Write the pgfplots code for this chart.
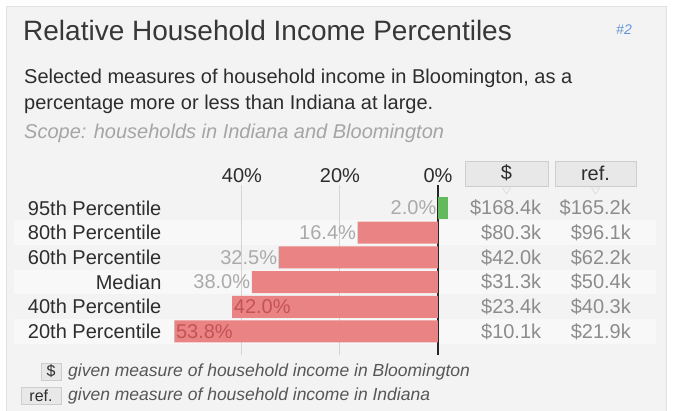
\documentclass[border=0pt]{standalone}
\usepackage{pgfplots}
\pgfplotsset{compat=1.18}
\usepackage{pgfplotstable}
\usepackage{fontspec}
\setmainfont{Liberation Sans}

\definecolor{panel}{RGB}{243,243,243}
\definecolor{panelline}{RGB}{225,225,225}
\definecolor{band}{RGB}{248,248,248}
\definecolor{titlec}{RGB}{55,55,55}
\definecolor{textc}{RGB}{45,45,45}
\definecolor{scopec}{RGB}{165,165,165}
\definecolor{lblgray}{RGB}{170,170,170}
\definecolor{valc}{RGB}{140,140,140}
\definecolor{barred}{RGB}{234,131,131}
\definecolor{bargreen}{RGB}{98,186,92}
\definecolor{inred}{RGB}{196,84,84}
\definecolor{gridc}{RGB}{212,212,212}
\definecolor{hdr}{RGB}{232,232,232}
\definecolor{hdrline}{RGB}{205,205,205}
\definecolor{numc}{RGB}{105,150,210}

% row 0 = 95th percentile ... row 5 = 20th percentile
% pct: how far Bloomington is below Indiana (negative = above)
\pgfplotstableread{
row pct bloom ref
0 -2.0 168.4 165.2
1 16.4 80.3 96.1
2 32.5 42.0 62.2
3 38.0 31.3 50.4
4 42.0 23.4 40.3
5 53.8 10.1 21.9
}\income

\begin{document}
\begin{tikzpicture}[x=1pt,y=1pt]
\useasboundingbox (0,0) rectangle (673,-411);
\fill[white] (0,0) rectangle (673,-411);
\fill[panel] (6,-6) rectangle (666,-411);
\draw[panelline] (6,-411) -- (6,-6) -- (666,-6) -- (666,-411);
\foreach \r in {1,3,5}
  \fill[band] (14,{-208+12.35-\r*24.7}) rectangle (656,{-208-12.35-\r*24.7});

% headings
\node[anchor=base west, inner sep=0, text=titlec, font=\fontsize{28}{32}\selectfont]
  at (23,-41) {Relative Household Income Percentiles};
\node[anchor=base east, inner sep=0, text=numc, font=\fontsize{14}{16}\selectfont\itshape]
  at (632,-35) {\#2};
\node[anchor=base west, inner sep=0, text=textc, font=\fontsize{20}{24}\selectfont]
  at (24,-84) {Selected measures of household income in Bloomington, as a};
\node[anchor=base west, inner sep=0, text=textc, font=\fontsize{20}{24}\selectfont]
  at (24,-110) {percentage more or less than Indiana at large.};
\node[anchor=base west, inner sep=0, text=scopec, font=\fontsize{20}{24}\selectfont\itshape]
  at (24,-139) {Scope: households in Indiana and Bloomington};

% column headers
\draw[fill=hdr, draw=hdrline] (465,-161) rectangle (548,-186);
\draw[fill=hdr, draw=hdrline] (555,-161) rectangle (636,-186);
\node[text=textc, font=\fontsize{20}{24}\selectfont] at (506.5,-173) {\$};
\node[text=textc, font=\fontsize{20}{24}\selectfont] at (595.5,-173) {ref.};
\draw[hdrline, fill=panel] (502.5,-188) -- (510.5,-188) -- (506.5,-194) -- cycle;
\draw[hdrline, fill=panel] (591.5,-188) -- (599.5,-188) -- (595.5,-194) -- cycle;

% legend
\draw[fill=hdr, draw=hdrline] (41,-363) rectangle (61,-380);
\draw[fill=hdr, draw=hdrline] (21,-387) rectangle (61,-404);
\node[text=textc, font=\fontsize{16}{18}\selectfont] at (51,-371.5) {\$};
\node[text=textc, font=\fontsize{16}{18}\selectfont] at (41,-395.5) {ref.};
\node[anchor=base west, inner sep=0, text=textc!80, font=\fontsize{17.5}{20}\selectfont\itshape]
  at (68,-377) {given measure of household income in Bloomington};
\node[anchor=base west, inner sep=0, text=textc!80, font=\fontsize{17.5}{20}\selectfont\itshape]
  at (68,-401) {given measure of household income in Indiana};

\begin{axis}[
    at={(438pt,-208pt)}, anchor=origin,
    x=4.9pt, y=24.7pt,
    x dir=reverse, y dir=reverse,
    xmin=-2.5, xmax=56, ymin=-0.93, ymax=5.95,
    axis line style={draw=none},
    major tick length=0pt,
    clip=false,
    /pgf/number format/assume math mode=true,
    xtick={0,20,40}, xticklabels={0\%,20\%,40\%},
    xticklabel pos=right,
    xticklabel style={anchor=south, text=textc, inner sep=2pt},
    xmajorgrids, grid style={gridc, line width=1pt},
    extra x ticks={0}, extra x tick labels={},
    extra x tick style={grid style={black!85, line width=1.3pt}},
    ytick={0,...,5},
    yticklabels={95th Percentile,80th Percentile,60th Percentile,Median,40th Percentile,20th Percentile},
    yticklabel pos=left,
    yticklabel style={anchor=east, text=textc, inner sep=2pt},
    tick label style={font=\fontsize{20}{24}\selectfont},
]
\addplot[xbar, bar width=22pt, bar shift=0pt, fill=barred, draw=none,
    restrict x to domain=0:100] table[x=pct, y=row] {\income};
\addplot[xbar, bar width=22pt, bar shift=0pt, fill=bargreen, draw=none,
    restrict x to domain=-10:0] table[x=pct, y=row] {\income};
% percentage labels left of the bar end
\addplot[draw=none, mark=none,
    restrict expr to domain={\thisrow{pct}}{-10:40},
    point meta={abs(\thisrow{pct})},
    nodes near coords={\pgfmathprintnumber[assume math mode=true,fixed,fixed zerofill,precision=1]{\pgfplotspointmeta}\%},
    nodes near coords style={anchor=east, text=lblgray, inner sep=1.5pt, font=\fontsize{20}{24}\selectfont}]
    table[x expr={max(\thisrow{pct},0)}, y=row] {\income};
% percentage labels inside long bars
\addplot[draw=none, mark=none,
    restrict expr to domain={\thisrow{pct}}{40:100},
    point meta={abs(\thisrow{pct})},
    nodes near coords={\pgfmathprintnumber[assume math mode=true,fixed,fixed zerofill,precision=1]{\pgfplotspointmeta}\%},
    nodes near coords style={anchor=west, text=inred, inner sep=1.5pt, font=\fontsize{20}{24}\selectfont}]
    table[x=pct, y=row] {\income};
% dollar columns
\addplot[draw=none, mark=none, point meta=explicit,
    nodes near coords={\$\pgfmathprintnumber[assume math mode=true,fixed,fixed zerofill,precision=1]{\pgfplotspointmeta}k},
    nodes near coords style={anchor=east, text=valc, inner sep=0pt, font=\fontsize{20}{24}\selectfont}]
    table[x expr=-21.1, y=row, meta=bloom] {\income};
\addplot[draw=none, mark=none, point meta=explicit,
    nodes near coords={\$\pgfmathprintnumber[assume math mode=true,fixed,fixed zerofill,precision=1]{\pgfplotspointmeta}k},
    nodes near coords style={anchor=east, text=valc, inner sep=0pt, font=\fontsize{20}{24}\selectfont}]
    table[x expr=-39.4, y=row, meta=ref] {\income};
\end{axis}
\end{tikzpicture}
\end{document}
